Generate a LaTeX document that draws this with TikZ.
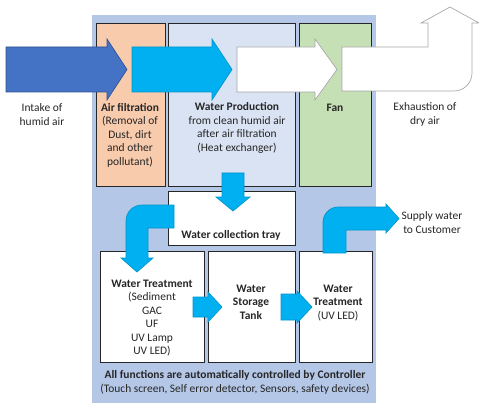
\documentclass[tikz,border=0pt]{standalone}
\usepackage{fontspec}
\setmainfont{Carlito}
\usepackage{tikz}
\usetikzlibrary{calc,fit}
\definecolor{panelblue}{HTML}{B4C7E7}
\definecolor{peach}{HTML}{F8CBAD}
\definecolor{paleblue}{HTML}{DAE3F3}
\definecolor{palegreen}{HTML}{C5E0B4}
\definecolor{airblue}{HTML}{4472C4}
\definecolor{airedge}{HTML}{2F528F}
\definecolor{flowcyan}{HTML}{00B0F0}
\def\drawunit{\node[draw=black!85,line width=0.6pt,inner sep=0pt]}
\def\drawflow{\filldraw[line width=0.5pt,line join=miter]}

\begin{document}
\begin{tikzpicture}[x=0.75pt,y=-0.75pt,
  txt/.style={align=center,inner sep=0pt,text=black!85,
    font=\fontsize{8.6}{10.1}\selectfont}]
\useasboundingbox (0,0) rectangle (479,403);
\fill[panelblue] (92,15) rectangle (376,403);

% Units of the machine
\drawunit[fill=peach,fit={(96,23) (165,186)}] (airfilt) {};
\drawunit[fill=paleblue,fit={(168,23) (295,186)}] (waterprod) {};
\drawunit[fill=palegreen,fit={(299,23) (371,186)}] (fan) {};
\drawunit[fill=white,fit={(168,191) (295,245)}] (tray) {};
\drawunit[fill=white,fit={(100,251) (204,362)}] (treat) {};
\drawunit[fill=white,fit={(208,251) (295,362)}] (storage) {};
\drawunit[fill=white,fit={(299,251) (372,362)}] (uvled) {};

% Air path, left to right
\drawflow[fill=airblue,draw=airedge] (6,47) -- (107,47) -- (107,39) -- (127,69.5)
  -- (107,100) -- (107,92) -- (6,92) -- cycle;
\drawflow[fill=flowcyan,draw=flowcyan!85!black] (132,47) -- (212,47) -- (212,39)
  -- (232,69.5) -- (212,100) -- (212,92) -- (132,92) -- cycle;
\drawflow[fill=white,draw=black!35] (237,47) -- (315,47) -- (315,39) -- (337,69.5)
  -- (315,100) -- (315,92) -- (237,92) -- cycle;
\drawflow[fill=white,draw=black!35] (342,47) -- (428,47) -- (428,23) -- (421,23)
  -- (450,7) -- (479,23) -- (472,23) -- (472,73)
  .. controls (472,83) and (464,91) .. (454,91) -- (342,91) -- cycle;

% Water path
\drawflow[fill=flowcyan,draw=flowcyan!85!black] (222,173) -- (244,173) -- (244,197)
  -- (250,197) -- (233,211) -- (216,197) -- (222,197) -- cycle;
\drawflow[fill=flowcyan,draw=flowcyan!85!black] (174,205) -- (142,205)
  .. controls (133,205) and (126,212) .. (126,221) -- (126,258) -- (121,258)
  -- (137,272) -- (153,258) -- (148,258) -- (148,228) -- (174,228) -- cycle;
\drawflow[fill=flowcyan,draw=flowcyan!85!black] (193,297) -- (208,297) -- (208,292)
  -- (222,307) -- (208,322) -- (208,317) -- (193,317) -- cycle;
\drawflow[fill=flowcyan,draw=flowcyan!85!black] (281,294) -- (297,294) -- (297,291)
  -- (312,307) -- (297,323) -- (297,320) -- (281,320) -- cycle;
\drawflow[fill=flowcyan,draw=flowcyan!85!black] (323,253) -- (323,222)
  .. controls (323,214) and (330,207) .. (338,207) -- (386,207) -- (386,204)
  -- (399,218.5) -- (386,233) -- (386,230) -- (346,230) -- (346,253) -- cycle;

% Labels
\node[txt] (intake) at (42,114.5) {Intake of\\humid air};
\node[txt] (airfilttxt) at (130,135) {\textbf{Air filtration}\\(Removal of\\Dust, dirt\\and other\\pollutant)};
\node[txt] (waterprodtxt) at (237,128) {\textbf{Water Production}\\from clean humid air\\after air filtration\\(Heat exchanger)};
\node[txt] (fantxt) at (335,108) {\textbf{Fan}};
\node[txt] (exhaust) at (425,114.5) {Exhaustion of\\dry air};
\node[txt] (traytxt) at (231,235) {\textbf{Water collection tray}};
\node[txt] (treattxt) at (152,318) {\textbf{Water Treatment}\\(Sediment\\GAC\\UF\\UV Lamp\\UV LED)};
\node[txt] (storagetxt) at (251,302) {\textbf{Water}\\\textbf{Storage}\\\textbf{Tank}};
\node[txt] (uvledtxt) at (338,303) {\textbf{Water}\\\textbf{Treatment}\\(UV LED)};
\node[txt] (supply) at (432,222.5) {Supply water\\to Customer};
\node[txt] (control) at (235,382.5) {\textbf{All functions are automatically controlled by Controller}\\(Touch screen, Self error detector, Sensors, safety devices)};
\end{tikzpicture}
\end{document}
